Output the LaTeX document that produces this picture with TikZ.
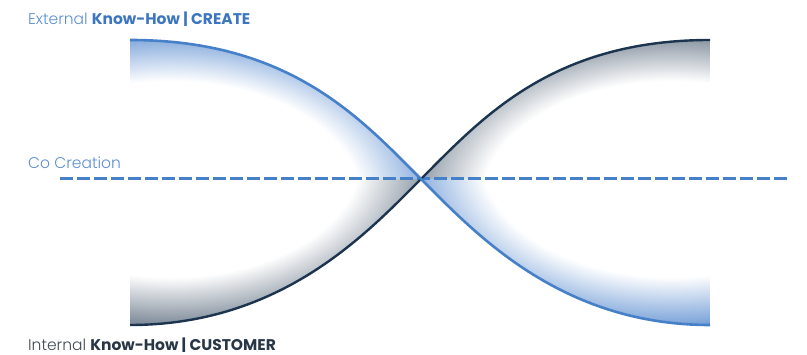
\documentclass[tikz,border=0pt]{standalone}
\usepackage{fontspec}
\setmainfont{Poppins}
\newfontfamily\lightfont{Poppins Light}
\definecolor{lineblue}{RGB}{70,128,200}
\definecolor{linedark}{RGB}{28,52,78}
\definecolor{fillblue}{RGB}{98,146,210}
\definecolor{fillgray}{RGB}{104,119,136}
\definecolor{textblue}{RGB}{92,142,208}
\definecolor{boldblue}{RGB}{60,118,192}
\definecolor{textgray}{RGB}{64,72,82}
\definecolor{boldgray}{RGB}{40,54,70}
\pgfdeclareradialshading{glowblue}{\pgfpointorigin}{color(0bp)=(white); color(17bp)=(white); color(25bp)=(fillblue); color(50bp)=(fillblue)}
\pgfdeclareradialshading{glowgray}{\pgfpointorigin}{color(0bp)=(white); color(17bp)=(white); color(25bp)=(fillgray); color(50bp)=(fillgray)}
\tikzset{
	heading/.style = {inner sep=0pt, font=\fontsize{15.5}{18}\selectfont},
	midline/.style = {draw=lineblue, line width=3pt, dash pattern=on 13pt off 4pt},
	bluecurve/.style = {draw=lineblue, line width=2.6pt},
	darkcurve/.style = {draw=linedark, line width=2.4pt}
}
\begin{document}
\begin{tikzpicture}[x=1pt, y=-1pt]
		\useasboundingbox (0,0) rectangle (807,355);
		\coordinate (ext) at (130,40);
		\coordinate (int) at (130,325);
		\coordinate (cross) at (421,179);
		\coordinate (exttop) at (710,40);
		\coordinate (intbot) at (710,325);
		\coordinate (lineL) at (60,179);
		\coordinate (lineR) at (790,179);
		% glow in the four halves of the lobes
		\begin{scope}
			\clip (ext) .. controls (290,40) and (360,118) .. (cross) -- (130,179) -- cycle;
			\shade[shading=glowblue] (170,200) ellipse [x radius=280pt, y radius=175pt];
		\end{scope}
		\begin{scope}
			\clip (int) .. controls (282,325) and (367,233) .. (cross) -- (130,179) -- cycle;
			\shade[shading=glowgray] (170,158) ellipse [x radius=280pt, y radius=175pt];
		\end{scope}
		\begin{scope}
			\clip (cross) .. controls (482,118) and (552,40) .. (exttop) -- (710,179) -- cycle;
			\shade[shading=glowgray] (672,200) ellipse [x radius=280pt, y radius=175pt];
		\end{scope}
		\begin{scope}
			\clip (cross) .. controls (475,233) and (560,325) .. (intbot) -- (710,179) -- cycle;
			\shade[shading=glowblue] (672,158) ellipse [x radius=280pt, y radius=175pt];
		\end{scope}
		\draw [midline] (lineL) -- (lineR);
		\draw [darkcurve] (int) .. controls (282,325) and (367,233) .. (cross)
			.. controls (482,118) and (552,40) .. (exttop);
		\draw [bluecurve] (ext) .. controls (290,40) and (360,118) .. (cross)
			.. controls (475,233) and (560,325) .. (intbot);
		\node [heading, anchor=base west] (external) at (28,25)
			{{\lightfont\color{textblue}External} {\bfseries\color{boldblue}Know-How | CREATE}};
		\node [heading, anchor=base west] (cocreation) at (28,169)
			{\lightfont\color{textblue}Co Creation};
		\node [heading, anchor=base west] (internal) at (28,351)
			{{\lightfont\color{textgray}Internal} {\bfseries\color{boldgray}Know-How | CUSTOMER}};
\end{tikzpicture}
\end{document}
